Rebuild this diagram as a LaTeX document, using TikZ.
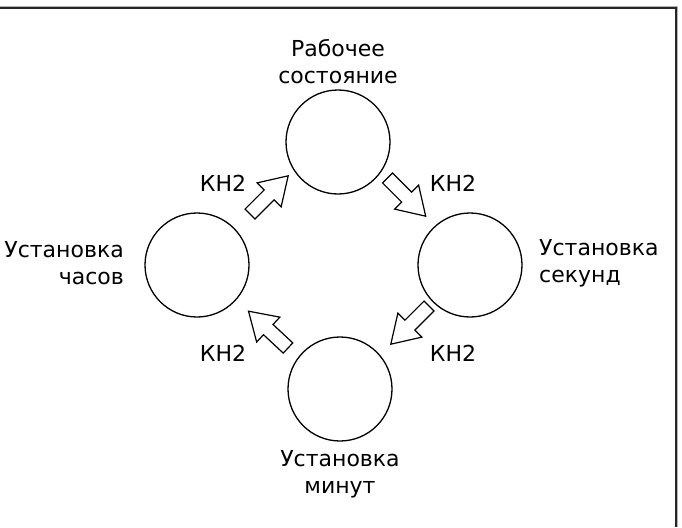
\documentclass[tikz,border=0pt]{standalone}
\usepackage{fontspec}
\setmainfont{DejaVu Sans}
\begin{document}
\begin{tikzpicture}[x=1pt,y=-1pt,
  state/.style={circle,draw,line width=1.3pt,minimum size=104pt,inner sep=0pt},
  lbl/.style={inner sep=0pt,font=\fontsize{22}{27}\selectfont},
  blk/.style={draw,line width=1.2pt,fill=white,line join=miter}]
\useasboundingbox (0,0) rectangle (682,527);
% frame
\draw[gray!60,line width=1pt] (0,6.5) -- (677.5,6.5) -- (677.5,527);
\draw[black!85,line width=1.3pt] (0,8) -- (676,8) -- (676,527);
% states
\node[state] (work) at (338,142) {};
\node[state] (hour) at (197,265) {};
\node[state] (sec)  at (470,265) {};
\node[state] (min)  at (340,389) {};
% labels
\node[lbl,align=center] (tw) at (338,62) {Рабочее\\состояние};
\node[lbl,align=right,anchor=east] (th) at (124,263) {Установка\\часов};
\node[lbl,align=left,anchor=west] (ts) at (539,263) {Установка\\секунд};
\node[lbl,align=center] (tm) at (340,474) {Установка\\минут};
\node[lbl] (k1) at (223,183) {КН2};
\node[lbl] (k2) at (453,183) {КН2};
\node[lbl] (k3) at (453,353) {КН2};
\node[lbl] (k4) at (223,353) {КН2};
% block arrows
\newcommand\blockarr[2]{%
  \begin{scope}[shift={#1},rotate=#2]
    \draw[blk] (0,-7) -- (27,-7) -- (27,-17) -- (54,0) -- (27,17) -- (27,7) -- (0,7) -- cycle;
  \end{scope}}
\coordinate (a1) at (250,214);
\coordinate (a2) at (387.5,178);
\coordinate (a3) at (429,306);
\coordinate (a4) at (288,348);
\blockarr{(a1)}{45}
\blockarr{(a2)}{-45}
\blockarr{(a3)}{-135}
\blockarr{(a4)}{137}
\end{tikzpicture}
\end{document}
